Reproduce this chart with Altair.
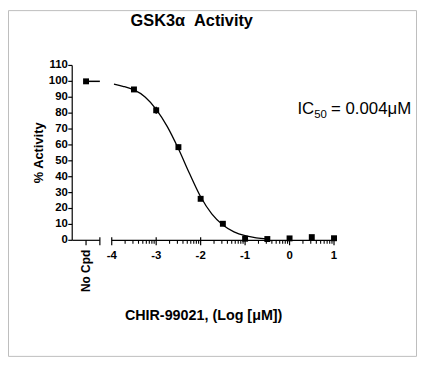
import altair as alt
import pandas as pd
import numpy as np

# ---- data ----
log_conc = [-3.5, -3.0, -2.5, -2.0, -1.5, -1.0, -0.5, 0.0, 0.5, 1.0]
activity = [94.9, 81.8, 58.6, 26.1, 10.4, 1.0, 0.8, 1.2, 2.0, 1.3]
activity_err = [0.8, 2.2, 1.6, 0.8, 0.6, 0.5, 0.4, 0.6, 1.0, 0.6]
no_cpd_activity = [100.0]
fit_log_conc = [-3.95, -3.75, -3.5, -3.25, -3.0, -2.75, -2.5, -2.25, -2.0,
                -1.75, -1.5, -1.25, -1.0, -0.75, -0.5]
fit_activity = [98.2, 96.9, 94.6, 90.2, 82.4, 71.5, 57.6, 42.0, 27.4,
                16.6, 9.6, 5.3, 2.9, 1.6, 0.9]
x_major_ticks = [-4, -3, -2, -1, 0, 1]
y_ticks = list(range(0, 111, 10))
title_text = "GSK3\u03b1\u00a0 Activity"
y_title = "% Activity"
x_title = "CHIR-99021, (Log [\u03bcM])"
no_cpd_label = "No Cpd"
ic50_value = "= 0.004\u03bcM"

# ---- layout constants ----
FONT = "Liberation Sans"
W, H = 265, 177
XMIN, XMAX = -4.889, 1.0
NO_CPD_X = -4.578
SEG_END_X = -4.267

xs = alt.Scale(domain=[XMIN, XMAX], nice=False, zero=False)
ys = alt.Scale(domain=[0, 110], nice=False)

pts = pd.DataFrame({"x": log_conc, "y": activity,
                    "lo": [a - e for a, e in zip(activity, activity_err)],
                    "hi": [a + e for a, e in zip(activity, activity_err)]})
fit = pd.DataFrame({"x": fit_log_conc, "y": fit_activity})
nocpd = pd.DataFrame({"x": [NO_CPD_X], "x2": [SEG_END_X], "y": no_cpd_activity})

minor = []
for d in range(-4, 1):
    for k in range(2, 10):
        minor.append(round(float(d + np.log10(k)), 4))
major_df = pd.DataFrame({"x": x_major_ticks, "lab": [str(v) for v in x_major_ticks]})
minor_df = pd.DataFrame({"mx": minor})
seg_df = pd.DataFrame({"x": [XMIN, -4.0], "x2": [SEG_END_X, XMAX]})
seg_ticks = pd.DataFrame({"x": [NO_CPD_X, SEG_END_X], "top": [177, 174]})
ytick_df = pd.DataFrame({"yt": y_ticks, "lab": [str(v) for v in y_ticks]})
ydom_df = pd.DataFrame({"y0": [0], "y1": [110]})

one = pd.DataFrame({"a": [0]})
NOAX = None

frame = alt.Chart(one).mark_rect(fillOpacity=0, stroke="#bdbdbd", strokeWidth=1).encode(
    x=alt.value(-64.5), x2=alt.value(348.5), y=alt.value(-55.5), y2=alt.value(294.5))

# y axis drawn by hand
y_dom = alt.Chart(ydom_df).mark_rule(color="black", strokeWidth=1.2).encode(
    x=alt.value(0), y=alt.Y("y0:Q", scale=ys, axis=NOAX), y2="y1:Q")
y_tk = alt.Chart(ytick_df).mark_rule(color="black", strokeWidth=1.2).encode(
    x=alt.value(-4), x2=alt.value(0), y=alt.Y("yt:Q", scale=ys, axis=NOAX))
y_lab = alt.Chart(ytick_df).mark_text(font=FONT, fontSize=11.5, fontWeight="bold",
                                      align="right", baseline="middle", color="black").encode(
    x=alt.value(-4.5), y=alt.Y("yt:Q", scale=ys, axis=NOAX), text="lab:N")

axis_lines = alt.Chart(seg_df).mark_rule(color="black", strokeWidth=1.2).encode(
    x=alt.X("x:Q", scale=xs, axis=NOAX), x2="x2:Q", y=alt.value(177))
major_t = alt.Chart(major_df).mark_rule(color="black", strokeWidth=1.2).encode(
    x=alt.X("x:Q", scale=xs, axis=NOAX), y=alt.value(174), y2=alt.value(182))
minor_t = alt.Chart(minor_df).mark_rule(color="black", strokeWidth=1.1).encode(
    x=alt.X("mx:Q", scale=xs, axis=NOAX), y=alt.value(177), y2=alt.value(180.5))
seg_t = alt.Chart(seg_ticks).mark_rule(color="black", strokeWidth=1.2).encode(
    x=alt.X("x:Q", scale=xs, axis=NOAX), y=alt.Y("top:Q", scale=None), y2=alt.value(182))
major_lab = alt.Chart(major_df).mark_text(font=FONT, fontSize=11.5, fontWeight="bold",
                                          baseline="middle", color="black").encode(
    x=alt.X("x:Q", scale=xs, axis=NOAX), y=alt.value(193), text="lab:N")

curve = alt.Chart(fit).mark_line(color="black", strokeWidth=1.3, interpolate="monotone").encode(
    x=alt.X("x:Q", scale=xs, axis=NOAX), y=alt.Y("y:Q", scale=ys, axis=NOAX))
errs = alt.Chart(pts).mark_rule(color="black", strokeWidth=1.5).encode(
    x=alt.X("x:Q", scale=xs, axis=NOAX), y=alt.Y("lo:Q", scale=ys, axis=NOAX), y2="hi:Q")
squares = alt.Chart(pts).mark_square(color="black", size=36, opacity=1).encode(
    x=alt.X("x:Q", scale=xs, axis=NOAX), y=alt.Y("y:Q", scale=ys, axis=NOAX))
nocpd_line = alt.Chart(nocpd).mark_rule(color="black", strokeWidth=1.5).encode(
    x=alt.X("x:Q", scale=xs, axis=NOAX), x2="x2:Q", y=alt.Y("y:Q", scale=ys, axis=NOAX))
nocpd_pt = alt.Chart(nocpd).mark_square(color="black", size=36, opacity=1).encode(
    x=alt.X("x:Q", scale=xs, axis=NOAX), y=alt.Y("y:Q", scale=ys, axis=NOAX))

def txt(s, x, y, size, weight="normal", angle=0, align="center", baseline="middle", dy=0):
    kw = dict(text=s, font=FONT, fontSize=size, fontWeight=weight, align=align,
              baseline=baseline, color="black", dy=dy)
    if angle:
        kw["angle"] = angle
    return alt.Chart(one).mark_text(**kw).encode(x=alt.value(x), y=alt.value(y))

texts = [
    txt(title_text, 121, -40, 16.5, "bold", baseline="alphabetic"),
    txt(y_title, -34, 88.5, 13, "bold", angle=270),
    txt(x_title, 133, 254, 14.5, "bold"),
    txt(no_cpd_label, 14, 208, 12, "bold", angle=270),
    txt("IC", 228, 49, 17, align="left", baseline="alphabetic"),
    txt("50", 245, 53, 11.5, align="left", baseline="alphabetic"),
    txt(ic50_value, 262, 49, 17, align="left", baseline="alphabetic"),
]

chart = alt.layer(frame, y_dom, y_tk, y_lab, axis_lines, major_t, minor_t, seg_t, major_lab,
                  curve, errs, squares, nocpd_line, nocpd_pt, *texts).properties(
    width=W, height=H, autosize="none",
    padding={"left": 65, "top": 56, "right": 84, "bottom": 118},
    background="white",
).configure_view(stroke=None)

chart.save("out.html", embed_options={"renderer": "svg", "actions": False})
